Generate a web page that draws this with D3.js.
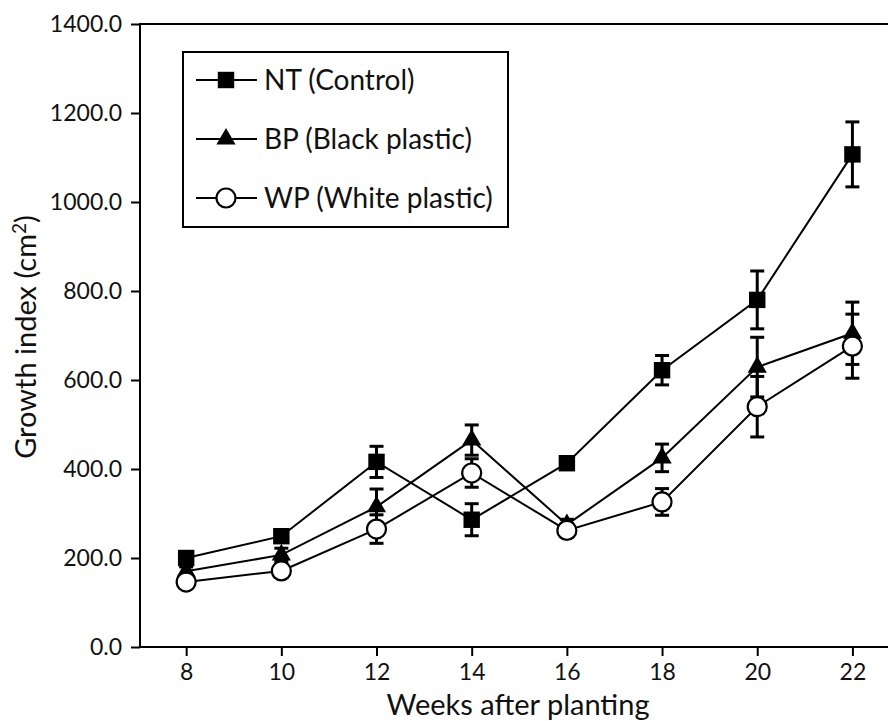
<!DOCTYPE html>
<html>
<head>
<meta charset="utf-8">
<script src="https://cdn.jsdelivr.net/npm/d3@7"></script>
<style>
  body { margin: 0; background: #fff; }
  text { font-family: Lato, "Open Sans", sans-serif; fill: #111; }
</style>
</head>
<body>
<div class="chart"></div>
<script>
const weeks = [8, 10, 12, 14, 16, 18, 20, 22];
const ntValues = [200, 249, 416, 286, 413, 622, 780, 1107];
const ntErrors = [10, 10, 35, 36, 10, 33, 65, 73];
const bpValues = [170, 207, 315, 465, 275, 425, 629, 705];
const bpErrors = [10, 15, 40, 34, 12, 31, 67, 70];
const wpValues = [146, 171, 265, 391, 262, 326, 540, 676];
const wpErrors = [8, 10, 32, 32, 15, 30, 68, 72];
const yTicks = [0, 200, 400, 600, 800, 1000, 1200, 1400];
const seriesNames = ["NT (Control)", "BP (Black plastic)", "WP (White plastic)"];

const w = 888, h = 721;
const svg = d3.select('.chart').append('svg')
    .attr('width', w).attr('height', h);

const x = d3.scaleLinear().domain([7.03, 23]).range([140, 900]);
const y = d3.scaleLinear().domain([0, 1400]).range([647, 24]);

//frame
svg.append('rect')
    .attr('x', x(7.03)).attr('y', y(1400))
    .attr('width', x(23) - x(7.03)).attr('height', y(0) - y(1400))
    .attr('fill', 'none').attr('stroke', '#000').attr('stroke-width', 2);

//axes
const yAxis = svg.append('g')
    .attr('transform', `translate(${x(7.03)},0)`)
    .call(d3.axisLeft(y).tickValues(yTicks).tickSize(9).tickFormat(d3.format('.1f')));
const xAxis = svg.append('g')
    .attr('transform', `translate(0,${y(0)})`)
    .call(d3.axisBottom(x).tickValues(weeks).tickSize(9));
[yAxis, xAxis].forEach(a => {
    a.select('.domain').remove();
    a.selectAll('line').attr('stroke', '#000').attr('stroke-width', 2);
    a.selectAll('text').style('font-size', '23px').attr('fill', '#111');
});
yAxis.selectAll('text').attr('x', -18);
xAxis.selectAll('text').attr('y', 17);

//axis titles
svg.append('text')
    .attr('x', 518).attr('y', 715)
    .attr('text-anchor', 'middle')
    .style('font-size', '29px')
    .text('Weeks after planting');
const yt = svg.append('text')
    .attr('transform', 'translate(36,337) rotate(-90)')
    .attr('text-anchor', 'middle')
    .style('font-size', '29px');
yt.append('tspan').text('Growth index (cm');
yt.append('tspan').attr('dy', -10).style('font-size', '19px').text('2');
yt.append('tspan').attr('dy', 10).text(')');

const series = [
    {name: seriesNames[0], values: ntValues, errors: ntErrors, marker: 'square'},
    {name: seriesNames[1], values: bpValues, errors: bpErrors, marker: 'triangle'},
    {name: seriesNames[2], values: wpValues, errors: wpErrors, marker: 'circle'}
];

const line = d3.line().x((d, i) => x(weeks[i])).y(d => y(d));

function drawMarker(g, type) {
    if (type === 'square') {
        g.append('path').attr('d', d3.symbol(d3.symbolSquare, 270)())
            .attr('fill', '#000');
    } else if (type === 'triangle') {
        g.append('path').attr('d', d3.symbol(d3.symbolTriangle, 160)())
            .attr('fill', '#000');
    } else {
        g.append('circle').attr('r', 9.5)
            .attr('fill', '#fff').attr('stroke', '#000').attr('stroke-width', 2.2);
    }
}

series.forEach(s => {
    const g = svg.append('g');
    //error bars
    weeks.forEach((wk, i) => {
        const cx = x(wk), top = y(s.values[i] + s.errors[i]), bot = y(s.values[i] - s.errors[i]);
        g.append('line').attr('x1', cx).attr('x2', cx).attr('y1', top).attr('y2', bot)
            .attr('stroke', '#000').attr('stroke-width', 3);
        [top, bot].forEach(yy => {
            g.append('line').attr('x1', cx - 7).attr('x2', cx + 7).attr('y1', yy).attr('y2', yy)
                .attr('stroke', '#000').attr('stroke-width', 3);
        });
    });
    g.append('path').datum(s.values)
        .attr('d', line)
        .attr('fill', 'none').attr('stroke', '#000').attr('stroke-width', 2);
    s.values.forEach((v, i) => {
        drawMarker(g.append('g').attr('transform', `translate(${x(weeks[i])},${y(v)})`), s.marker);
    });
});

//legend
const legend = svg.append('g');
legend.append('rect')
    .attr('x', 183).attr('y', 52).attr('width', 325).attr('height', 175)
    .attr('fill', '#fff').attr('stroke', '#000').attr('stroke-width', 2);
series.forEach((s, i) => {
    const ly = 80 + i * 59;
    legend.append('line').attr('x1', 196).attr('x2', 257).attr('y1', ly).attr('y2', ly)
        .attr('stroke', '#000').attr('stroke-width', 2);
    drawMarker(legend.append('g').attr('transform', `translate(226,${ly})`), s.marker);
    legend.append('text').attr('x', 264).attr('y', ly + 10)
        .style('font-size', '28px')
        .text(s.name);
});
</script>
</body>
</html>
